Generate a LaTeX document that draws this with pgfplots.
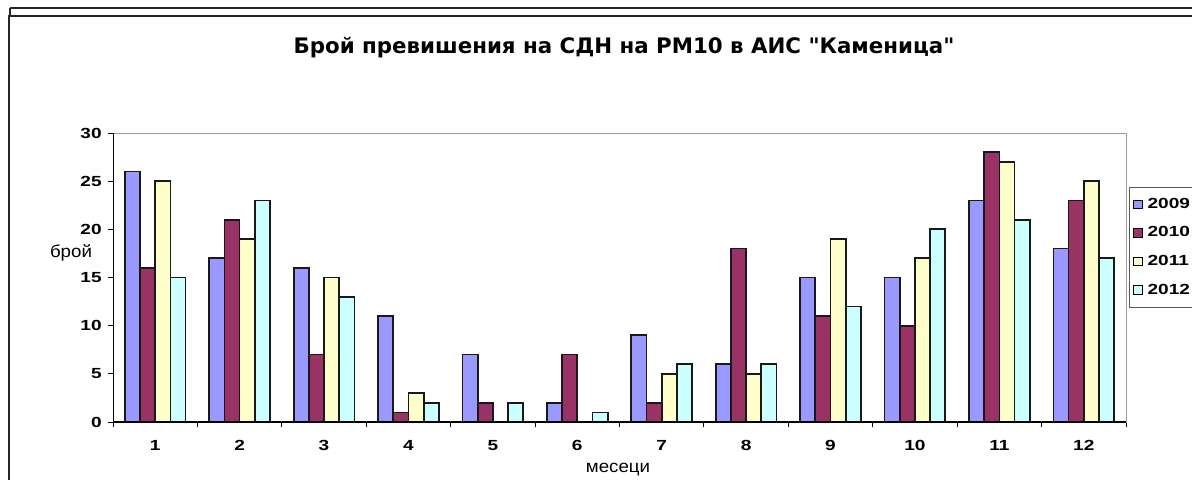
\documentclass[border=0pt]{standalone}
\usepackage{fontspec}
\setmainfont{Liberation Sans}
\newfontfamily\tickfont[FakeStretch=1.3]{Liberation Sans}
\newfontfamily\labelfont[FakeStretch=1.08]{Liberation Sans}
\newfontfamily\titlefont{DejaVu Sans}
\usepackage{pgfplots}
\pgfplotsset{compat=1.18}
\definecolor{c09}{HTML}{9999FF}
\definecolor{c10}{HTML}{993366}
\definecolor{c11}{HTML}{FFFFCC}
\definecolor{c12}{HTML}{CCFFFF}
\pgfplotsset{
  mybar/.style={fill=#1, draw=black!90, line width=1.3pt,
    legend image code/.code={\draw[fill=#1,draw=black,line width=0.7pt] (0pt,-3.2pt) rectangle (6.4pt,3.2pt);}},
}
\begin{document}
\begin{tikzpicture}[x=0.75pt,y=0.75pt]
\useasboundingbox (0,0) rectangle (1192,479);
\clip (0,0) rectangle (1192,479);
% outer frames
\draw[line width=1.1pt, black!85] (10,471) -- (1200,471);
\draw[line width=1.1pt, black!85] (10,471) -- (10,463);
\draw[line width=1.1pt, black!85] (8,463) -- (1200,463);
\draw[line width=1.4pt, black!85] (9,463) -- (9,-5);
\begin{axis}[
  at={(84.75pt,42.75pt)}, anchor=south west,
  width=759.75pt, height=216.75pt, scale only axis,
  xmin=0.5, xmax=12.5, ymin=0, ymax=30,
  ytick={0,5,...,30},
  xtick={1,...,12},
  minor xtick={0.5,1.5,...,12.5},
  major x tick style={draw=none},
  major tick length=4pt, minor tick length=4pt,
  tick align=outside,
  xtick pos=bottom, ytick pos=left,
  axis line style={gray!80, line width=0.7pt},
  tick style={black, line width=0.7pt},
  /pgf/number format/assume math mode=true,
  ticklabel style={font=\tickfont\bfseries\fontsize{11}{13}\selectfont},
  xticklabel style={yshift=-6.5pt},
  yticklabel style={xshift=-1pt},
  ybar=0pt, bar width=0.18,
  legend style={at={(axis description cs:1.003,0.813)}, anchor=north west,
    draw=gray!70!black, line width=0.6pt,
    font=\tickfont\bfseries\fontsize{11}{13}\selectfont,
    row sep=8.3pt, inner xsep=3pt, inner ysep=6pt,
    nodes={inner xsep=3.5pt}},
  legend cell align=left,
]
\addplot[mybar=c09] coordinates {(1,26) (2,17) (3,16) (4,11) (5,7) (6,2) (7,9) (8,6) (9,15) (10,15) (11,23) (12,18)};
\addplot[mybar=c10] coordinates {(1,16) (2,21) (3,7) (4,1) (5,2) (6,7) (7,2) (8,18) (9,11) (10,10) (11,28) (12,23)};
\addplot[mybar=c11] coordinates {(1,25) (2,19) (3,15) (4,3) (7,5) (8,5) (9,19) (10,17) (11,27) (12,25)};
\addplot[mybar=c12] coordinates {(1,15) (2,23) (3,13) (4,2) (5,2) (6,1) (7,6) (8,6) (9,12) (10,20) (11,21) (12,17)};
\legend{2009,2010,2011,2012}
\draw[black, line width=0.8pt] (rel axis cs:0,0) -- (rel axis cs:0,1);
\draw[black, line width=0.8pt] (rel axis cs:0,0) -- (rel axis cs:1,0);
\end{axis}
\node at (624,431) {\titlefont\bfseries\fontsize{16}{19}\selectfont Брой превишения на СДН на PM10 в АИС "Каменица"};
\node at (71,226) {\labelfont\fontsize{13}{15}\selectfont брой};
\node at (618,9) {\labelfont\fontsize{13}{15}\selectfont месеци};
\end{tikzpicture}
\end{document}
